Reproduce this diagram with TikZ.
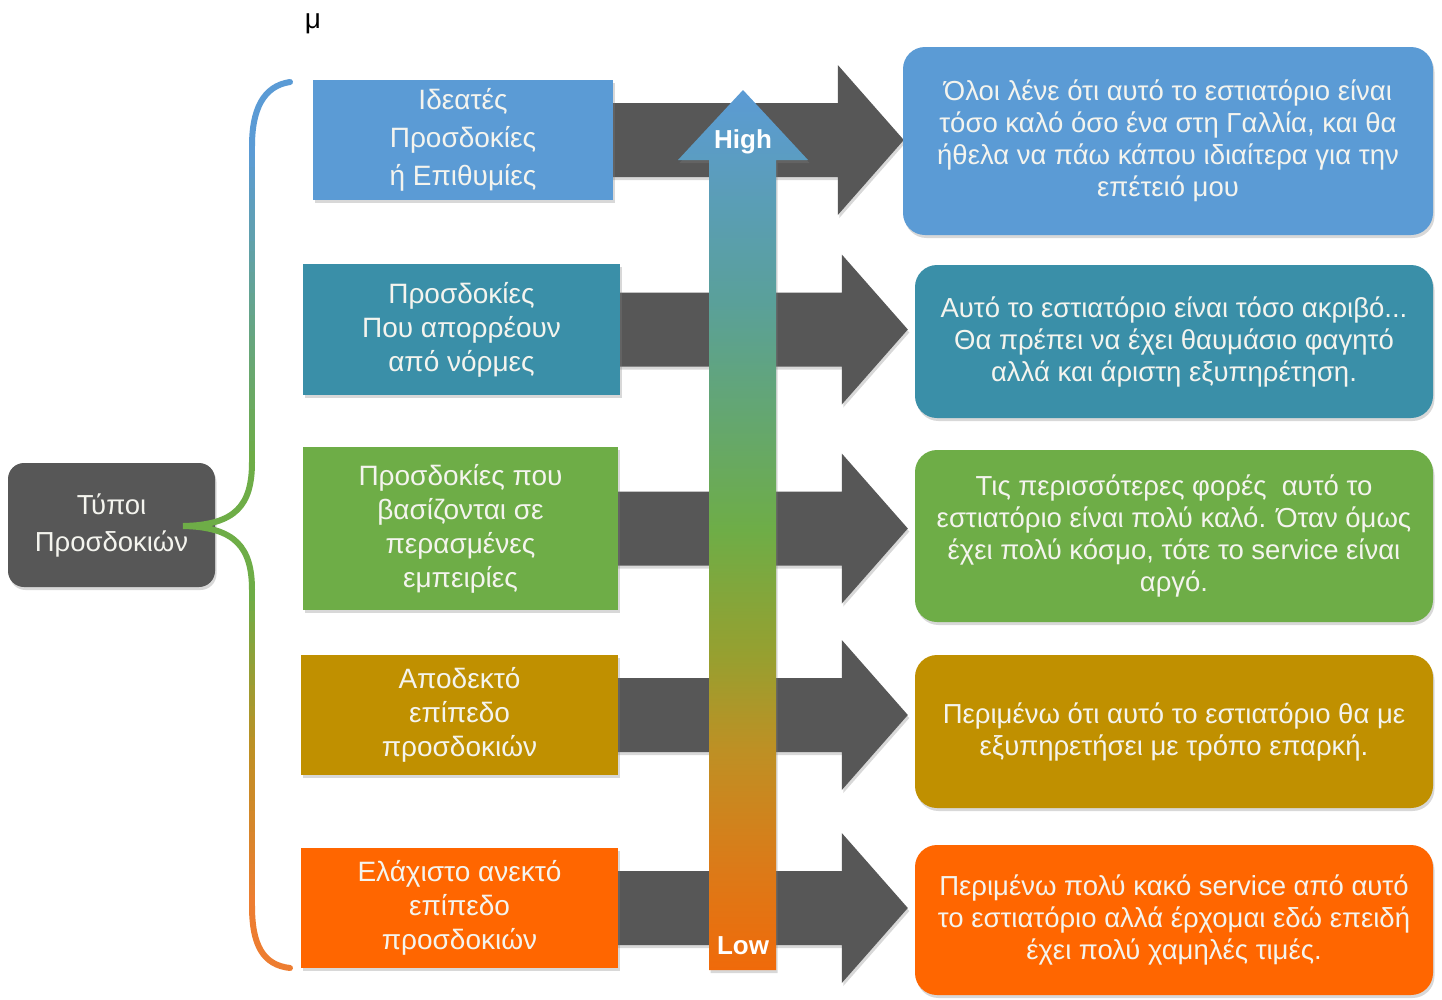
\documentclass[tikz,border=0pt]{standalone}
\usepackage{fontspec}
\setmainfont{Liberation Sans}
\usetikzlibrary{calc,shadows}
\definecolor{cBlue}{HTML}{5B9BD5}
\definecolor{cTeal}{HTML}{3A8FA8}
\definecolor{cGreen}{HTML}{6EAD47}
\definecolor{cGold}{HTML}{C09000}
\definecolor{cOrange}{HTML}{FF6600}
\definecolor{cDark}{HTML}{575757}
\definecolor{cText}{HTML}{F4F4EE}
\definecolor{gA}{HTML}{F06A0A}
\definecolor{gB}{HTML}{DC7A18}
\definecolor{gC}{HTML}{BE9024}
\definecolor{gD}{HTML}{96A030}
\definecolor{gE}{HTML}{6EAD47}
\definecolor{gF}{HTML}{5AA09A}
\definecolor{bOr}{HTML}{ED7D31}
\pgfdeclareverticalshading{updown}{100bp}{color(0bp)=(gA); color(25bp)=(gA); color(30.7bp)=(gB); color(37.5bp)=(gC); color(43bp)=(gD); color(50bp)=(gE); color(63bp)=(gF); color(75bp)=(cBlue); color(100bp)=(cBlue)}
\newcommand\darrow[3]{%
  \coordinate (s) at (#1.east);
  \coordinate (t) at ($(#1.east -| #2.west)+(#3,0)$);
  \fill[darkarrow] ($(s)+(-10,-37)$) -- ($(t)+(-66,-37)$) -- ($(t)+(-66,-75)$) -- (t)
     -- ($(t)+(-66,75)$) -- ($(t)+(-66,37)$) -- ($(s)+(-10,37)$) -- cycle;}
\begin{document}
\begin{tikzpicture}[x=1pt,y=-1pt,
  shad/.style={drop shadow={opacity=0.3,shadow xshift=1.5pt,shadow yshift=-3pt}},
  lbox/.style={shad,inner sep=0pt,align=center,text=cText,font=\fontsize{28}{34}\selectfont},
  rbox/.style={shad,rounded corners=22pt,inner sep=0pt,align=center,text=cText,font=\fontsize{27.5}{32}\selectfont},
  darkarrow/.style={fill=cDark,shad},
  lbl/.style={text=white,font=\bfseries\fontsize{26}{30}\selectfont}]
\useasboundingbox (0,0) rectangle (1442,999);
\fill[white] (0,0) rectangle (1442,999);
\node[font=\fontsize{28}{30}\selectfont] (mu) at (313,24) {μ};
% node positions
\node[minimum width=300pt,minimum height=120pt,inner sep=0pt] (L1) at (463,140) {};
\node[minimum width=317pt,minimum height=131pt,inner sep=0pt] (L2) at (461.5,329.5) {};
\node[minimum width=315pt,minimum height=163pt,inner sep=0pt] (L3) at (460.5,528.5) {};
\node[minimum width=317pt,minimum height=120pt,inner sep=0pt] (L4) at (459.5,715) {};
\node[minimum width=317pt,minimum height=120pt,inner sep=0pt] (L5) at (459.5,908) {};
\node[minimum width=530pt,minimum height=188pt,inner sep=0pt] (R1) at (1168,141) {};
\node[minimum width=518pt,minimum height=153pt,inner sep=0pt] (R2) at (1174,341.5) {};
\node[minimum width=518pt,minimum height=172pt,inner sep=0pt] (R3) at (1174,536) {};
\node[minimum width=518pt,minimum height=153pt,inner sep=0pt] (R4) at (1174,731.5) {};
\node[minimum width=518pt,minimum height=150pt,inner sep=0pt] (R5) at (1174,920) {};
% dark arrows
\darrow{L1}{R1}{1}
\darrow{L2}{R2}{-7}
\darrow{L3}{R3}{-7}
\darrow{L4}{R4}{-7}
\darrow{L5}{R5}{-7}
% left boxes
\node[lbox,fill=cBlue,minimum width=300pt,minimum height=120pt,font=\fontsize{28}{38}\selectfont] at (L1) {Ιδεατές\\Προσδοκίες\\ή Επιθυμίες};
\node[lbox,fill=cTeal,minimum width=317pt,minimum height=131pt] at (L2) {Προσδοκίες\\Που απορρέουν\\από νόρμες};
\node[lbox,fill=cGreen,minimum width=315pt,minimum height=163pt] at (L3) {Προσδοκίες που\\βασίζονται σε\\περασμένες\\εμπειρίες};
\node[lbox,fill=cGold,minimum width=317pt,minimum height=120pt] at (L4) {Αποδεκτό\\επίπεδο\\προσδοκιών};
\node[lbox,fill=cOrange,minimum width=317pt,minimum height=120pt] at (L5) {Ελάχιστο ανεκτό\\επίπεδο\\προσδοκιών};
% vertical scale arrow
\shade[shading=updown,shad] (709,970) -- (709,160) -- (678,160) -- (743,90) -- (808,160) -- (776,160) -- (776,970) -- cycle;
\node[lbl] (high) at (743,142) {High};
\node[lbl] (low) at (743,946) {Low};
% right boxes
\node[rbox,fill=cBlue,minimum width=530pt,minimum height=188pt] at (R1) {Όλοι λένε ότι αυτό το εστιατόριο είναι\\τόσο καλό όσο ένα στη Γαλλία, και θα\\ήθελα να πάω κάπου ιδιαίτερα για την\\επέτειό μου};
\node[rbox,fill=cTeal,minimum width=518pt,minimum height=153pt] at (R2) {Αυτό το εστιατόριο είναι τόσο ακριβό...\\Θα πρέπει να έχει θαυμάσιο φαγητό\\αλλά και άριστη εξυπηρέτηση.};
\node[rbox,fill=cGreen,minimum width=518pt,minimum height=172pt] at (R3) {Τις περισσότερες φορές\ \ αυτό το\\εστιατόριο είναι πολύ καλό. Όταν όμως\\έχει πολύ κόσμο, τότε το service είναι\\αργό.};
\node[rbox,fill=cGold,minimum width=518pt,minimum height=153pt] at (R4) {Περιμένω ότι αυτό το εστιατόριο θα με\\εξυπηρετήσει με τρόπο επαρκή.};
\node[rbox,fill=cOrange,minimum width=518pt,minimum height=150pt] at (R5) {Περιμένω πολύ κακό service από αυτό\\το εστιατόριο αλλά έρχομαι εδώ επειδή\\έχει πολύ χαμηλές τιμές.};
% root node
\node[shad,fill=cDark,rounded corners=16pt,minimum width=207pt,minimum height=124pt,inner sep=0pt,align=center,text=cText,font=\fontsize{27.5}{37}\selectfont] (T) at (111.5,525) {Τύποι\\Προσδοκιών};
% brace with colour gradient
\begin{scope}[line width=6pt]
\draw[cBlue,line cap=round] (290,82) .. controls (263,86) and (252,110) .. (252,146);
\foreach \i in {0,...,29}{
  \pgfmathsetmacro\ya{146+\i*316/30}
  \pgfmathsetmacro\yb{\ya+316/30+0.6}
  \pgfmathtruncatemacro\p{100*\i/29}
  \draw[color=cGreen!\p!cBlue] (252,\ya) -- (252,\yb);
}
\draw[cGreen] (252,462) .. controls (252,505) and (236,525) .. (183,526)
  .. controls (236,527) and (252,548) .. (252,590);
\foreach \i in {0,...,29}{
  \pgfmathsetmacro\ya{590+\i*316/30}
  \pgfmathsetmacro\yb{\ya+316/30+0.6}
  \pgfmathtruncatemacro\p{100*\i/29}
  \ifnum\p<50
    \pgfmathtruncatemacro\q{2*\p}
    \draw[color=gC!\q!cGreen] (252,\ya) -- (252,\yb);
  \else
    \pgfmathtruncatemacro\q{2*\p-100}
    \draw[color=bOr!\q!gC] (252,\ya) -- (252,\yb);
  \fi
}
\draw[bOr,line cap=round] (252,906) .. controls (252,945) and (263,965) .. (290,968);
\end{scope}
\end{tikzpicture}
\end{document}
